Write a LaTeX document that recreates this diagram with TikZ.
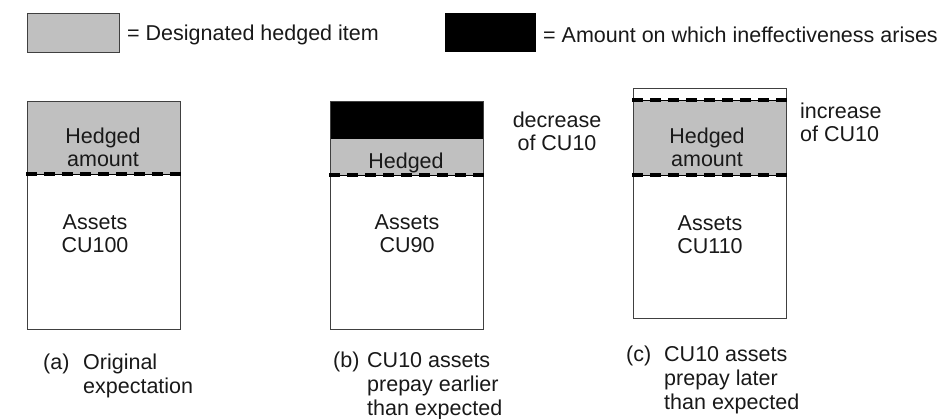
\documentclass[tikz,border=0pt]{standalone}
\usepackage{fontspec}
\setmainfont{Liberation Sans}
\definecolor{hedgegray}{RGB}{192,192,192}
\begin{document}
\begin{tikzpicture}[x=1pt,y=-1pt,
  txt/.style={font=\fontsize{21.5}{23}\selectfont, text=black!90, inner sep=0pt, align=center},
  ltxt/.style={txt, align=left, anchor=west},
  ctxt/.style={ltxt, font=\fontsize{21.5}{24}\selectfont},
  frame/.style={draw=black!75, line width=1pt},
  hedge/.style={fill=hedgegray},
  ineff/.style={fill=black},
  cutline/.style={line width=3.2pt, dash pattern=on 11pt off 7pt, draw=black},
  thinline/.style={line width=1pt, draw=black}]
\useasboundingbox (0,0) rectangle (942,418);
% legend
\path[frame,hedge] (27,13) rectangle (119,52);
\node[ltxt] (leg1) at (127,35) {= Designated hedged item};
\path[ineff] (445,13) rectangle (536,52);
\node[ltxt] (leg2) at (543,35) {= Amount on which ineffectiveness arises};
% (a)
\path[hedge] (27,101) rectangle (180,174);
\draw[frame] (27,101) rectangle (180,329);
\draw[thinline] (27,174) -- (180,174);
\draw[cutline] (26,174) -- (181,174);
\node[txt] (ha) at (103,147) {Hedged\\amount};
\node[txt] (aa) at (95,233.5) {Assets\\CU100};
\node[ctxt] (capa) at (43,363.7) {(a)};
\node[ctxt] (capat) at (83,375.7) {Original\\expectation};
% (b)
\path[ineff] (330,101) rectangle (483,139);
\path[hedge] (330,139) rectangle (483,175);
\draw[frame] (330,101) rectangle (483,329);
\draw[thinline] (330,175) -- (483,175);
\draw[cutline] (329,175) -- (484,175);
\node[txt] (hb) at (406,162.5) {Hedged};
\node[txt] (ab) at (407,233.5) {Assets\\CU90};
\node[txt] (db) at (557,131.5) {decrease\\of CU10};
\node[ctxt] (capb) at (333,362.4) {(b)};
\node[ctxt] (capbt) at (367,386.4) {CU10 assets\\prepay earlier\\than expected};
% (c)
\path[hedge] (633,100) rectangle (786,175);
\draw[frame] (633,88) rectangle (786,318);
\draw[thinline] (633,100) -- (786,100);
\draw[thinline] (633,175) -- (786,175);
\draw[cutline] (632,100) -- (787,100);
\draw[cutline] (632,175) -- (787,175);
\node[txt] (hc) at (707,147) {Hedged\\amount};
\node[txt] (ac) at (710,235) {Assets\\CU110};
\node[ltxt] (ic) at (800,122) {increase\\of CU10};
\node[ctxt] (capc) at (626,356.1) {(c)};
\node[ctxt] (capct) at (664,380.1) {CU10 assets\\prepay later\\than expected};
\end{tikzpicture}
\end{document}
